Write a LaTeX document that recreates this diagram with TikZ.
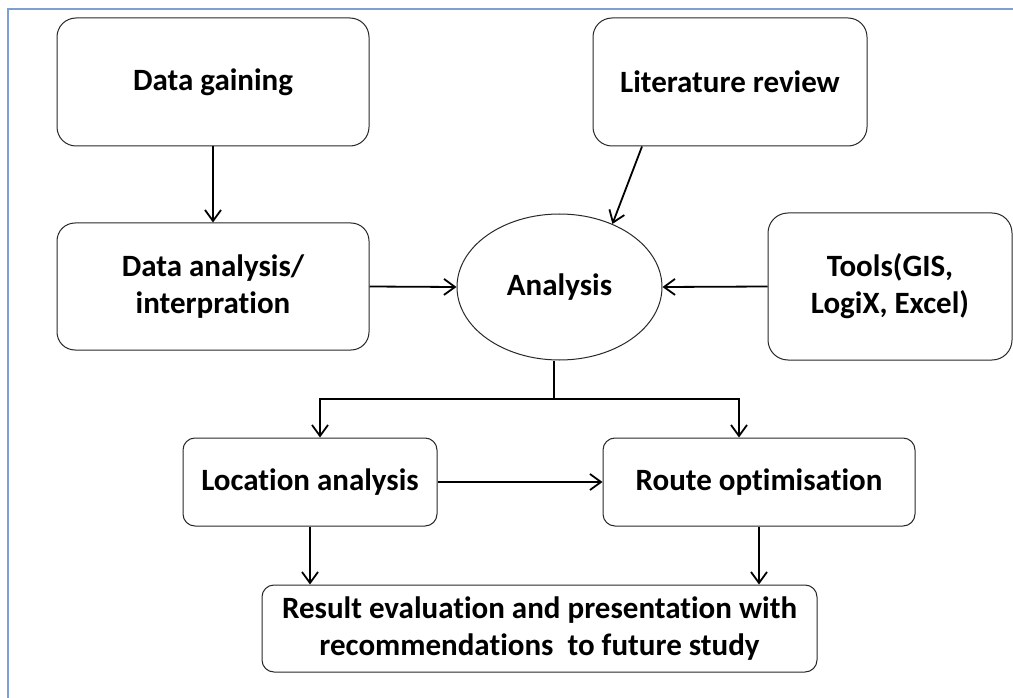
\documentclass[tikz,border=0pt]{standalone}
\usepackage{fontspec}
\setmainfont{Carlito}[Ligatures=NoCommon]
\usetikzlibrary{arrows.meta,shapes.geometric}
\definecolor{framecol}{RGB}{126,160,208}
\definecolor{boxline}{RGB}{40,40,40}
\tikzset{
  box/.style={draw=boxline, line width=1pt, rectangle, align=center, font=\fontsize{31}{37}\selectfont\bfseries, inner sep=0pt},
  oval/.style={draw=boxline, line width=1pt, ellipse, align=center, font=\fontsize{31}{37}\selectfont\bfseries, inner sep=0pt},
  arr/.style={line width=1.8pt, -{Straight Barb[length=11pt,width=16pt,line width=1.8pt]}},
  conn/.style={line width=1.8pt},
  frame/.style={draw=framecol, line width=2pt}
}
\begin{document}
\begin{tikzpicture}[x=1pt,y=-1pt]
\useasboundingbox (0,0) rectangle (1013,698);
\fill[white] (0,0) rectangle (1013,698);
\draw[frame] (8,698) -- (8,9) -- (1013,9);

\node[box, rounded corners=19pt, minimum width=312pt, minimum height=128pt] (dg) at (213,82) {Data gaining};
\node[box, rounded corners=19pt, minimum width=274pt, minimum height=128pt] (lit) at (730,82) {Literature review};
\node[box, rounded corners=18pt, minimum width=312pt, minimum height=127pt] (da) at (213,286.5) {Data analysis/\\interpration};
\node[oval, minimum width=205pt, minimum height=146pt] (ana) at (559.5,287) {Analysis};
\node[box, rounded corners=20pt, minimum width=244pt, minimum height=147pt] (tools) at (890,286.5) {Tools(GIS,\\LogiX, Excel)};
\node[box, rounded corners=12pt, minimum width=254pt, minimum height=88pt] (loc) at (310,482) {Location analysis};
\node[box, rounded corners=12pt, minimum width=312pt, minimum height=88pt] (route) at (759,482) {Route optimisation};
\node[box, rounded corners=12pt, minimum width=555pt, minimum height=87pt] (res) at (539.5,628.5) {Result evaluation and presentation with\\recommendations\ \ to future study};

\coordinate (split) at (554,399);

\draw[arr] (dg.south) -- (da.north);
\draw[arr] ([xshift=-88pt]lit.south) -- (ana.50);
\draw[arr] (da.east) -- (ana.west);
\draw[arr] (tools.west) -- (ana.east);
\draw[conn] ([xshift=-5.5pt]ana.south) -- (split);
\draw[arr] (split) -| ([xshift=10pt]loc.north);
\draw[arr] (split) -| ([xshift=-20pt]route.north);
\draw[arr] (loc.east) -- (route.west);
\draw[arr] (loc.south) -- (loc.south |- res.north);
\draw[arr] (route.south) -- (route.south |- res.north);
\end{tikzpicture}
\end{document}
